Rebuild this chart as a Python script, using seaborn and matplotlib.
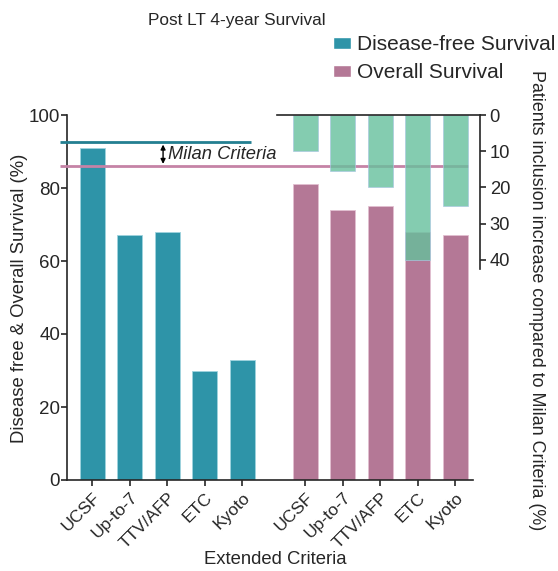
import numpy as np
import pandas as pd
import seaborn as sns
import matplotlib.pyplot as plt
from matplotlib.patches import Patch

# --- data ---
criteria = ["UCSF", "Up-to-7", "TTV/AFP", "ETC", "Kyoto"]
dfs_values = [91, 67, 68, 30, 33]        # disease-free survival (%)
os_values = [81, 74, 75, 68, 67]         # overall survival (%)
inclusion_increase = [10, 15.5, 20, 40, 25]  # patients inclusion increase vs Milan (%)
milan_dfs = 92.5
milan_os = 86

# bar positions (two groups with a gap)
dfs_pos = np.arange(5, dtype=float)
os_pos = dfs_pos + 5.67

teal = "#2e94a8"
pink = "#b47896"
green = "#66c09c"

sns.set_style("ticks")
plt.rcParams["font.family"] = ["Liberation Sans", "DejaVu Sans"]

fig = plt.figure(figsize=(5.58, 5.71), dpi=100)
ax = fig.add_axes([67 / 558, 1 - 480 / 571, (480 - 67) / 558, (480 - 115) / 571])

df_dfs = pd.DataFrame({"pos": dfs_pos, "val": dfs_values})
df_os = pd.DataFrame({"pos": os_pos, "val": os_values})
df_inc = pd.DataFrame({"pos": os_pos, "val": inclusion_increase})

sns.barplot(data=df_dfs, x="pos", y="val", native_scale=True, width=0.67,
            color=teal, saturation=1, edgecolor="#9fd3de", linewidth=0.6,
            errorbar=None, ax=ax)
sns.barplot(data=df_os, x="pos", y="val", native_scale=True, width=0.67,
            color=pink, saturation=1, edgecolor="#e2bfd0", linewidth=0.6,
            errorbar=None, ax=ax)

# Milan criteria reference lines
ax.hlines(milan_dfs, -0.86, 4.23, color="#237f91", lw=2, clip_on=False, zorder=3)
ax.hlines(milan_os, -0.86, 10.0, color="#c583a6", lw=2, clip_on=False, zorder=3)
ax.annotate("", xy=(1.885, milan_dfs - 0.6), xytext=(1.885, milan_os + 0.6),
            arrowprops=dict(arrowstyle="<|-|>", color="black", lw=1,
                            mutation_scale=7, shrinkA=0, shrinkB=0))
ax.text(2.02, (milan_dfs + milan_os) / 2, "Milan Criteria", style="italic",
        fontsize=13.2, va="center", ha="left")

ax.set_xlim(-0.675, 10.33)
ax.set_ylim(0, 100)
ax.set_yticks(range(0, 101, 20))
ax.set_xticks(list(dfs_pos) + list(os_pos))
ax.set_xticklabels(criteria + criteria, rotation=45, ha="right",
                   rotation_mode="anchor", fontsize=12.5)
ax.tick_params(axis="y", labelsize=13.5, length=4, width=1.2, pad=1)
ax.tick_params(axis="x", length=4, width=1.2, pad=3)
ax.set_xlabel("")
ax.set_ylabel("")
for s in ["top", "right"]:
    ax.spines[s].set_visible(False)
ax.spines["left"].set_linewidth(1.2)
ax.spines["bottom"].set_linewidth(1.2)
ax.spines["bottom"].set_bounds(-0.675, 10.15)

# secondary inverted axis for inclusion increase
ax2 = ax.twinx()
sns.barplot(data=df_inc, x="pos", y="val", native_scale=True, width=0.67,
            color=green, saturation=1, alpha=0.8, edgecolor="#a9c8e0",
            linewidth=0.6, errorbar=None, ax=ax2)
ax2.set_xlim(-0.675, 10.33)
ax2.set_ylim(100.7, 0)
ax2.set_yticks(range(0, 41, 10))
ax2.set_ylabel("")
ax2.set_xlabel("")
ax2.tick_params(axis="y", labelsize=13.2, length=4, width=1.2, pad=3)
for s in ["left", "bottom"]:
    ax2.spines[s].set_visible(False)
ax2.spines["right"].set_linewidth(1.2)
ax2.spines["right"].set_bounds(0, 42.6)
ax2.spines["top"].set_visible(True)
ax2.spines["top"].set_linewidth(1.2)
ax2.spines["top"].set_bounds(4.925, 10.33)

# texts
fig.text(237 / 558, 1 - 20 / 571, "Post LT 4-year Survival", ha="center",
         va="center", fontsize=12.4)
fig.text(20 / 558, 1 - 298 / 571, "Disease free & Overall Survival (%)",
         rotation=90, ha="center", va="center", fontsize=13.3)
fig.text(536 / 558, 1 - 300 / 571,
         "Patients inclusion increase compared to Milan Criteria (%)",
         rotation=270, ha="center", va="center", fontsize=12.9)
fig.text(275 / 558, 1 - 560 / 571, "Extended Criteria", ha="center",
         va="center", fontsize=13.3)

handles = [Patch(facecolor=teal, label="Disease-free Survival"),
           Patch(facecolor=pink, label="Overall Survival")]
fig.legend(handles=handles, loc="upper left",
           bbox_to_anchor=(333 / 558, 1 - 35 / 571), frameon=False,
           fontsize=15, handlelength=0.87, handleheight=0.5,
           handletextpad=0.3, labelspacing=0.45, borderaxespad=0,
           borderpad=0)

fig.savefig("out.png", dpi=100)
